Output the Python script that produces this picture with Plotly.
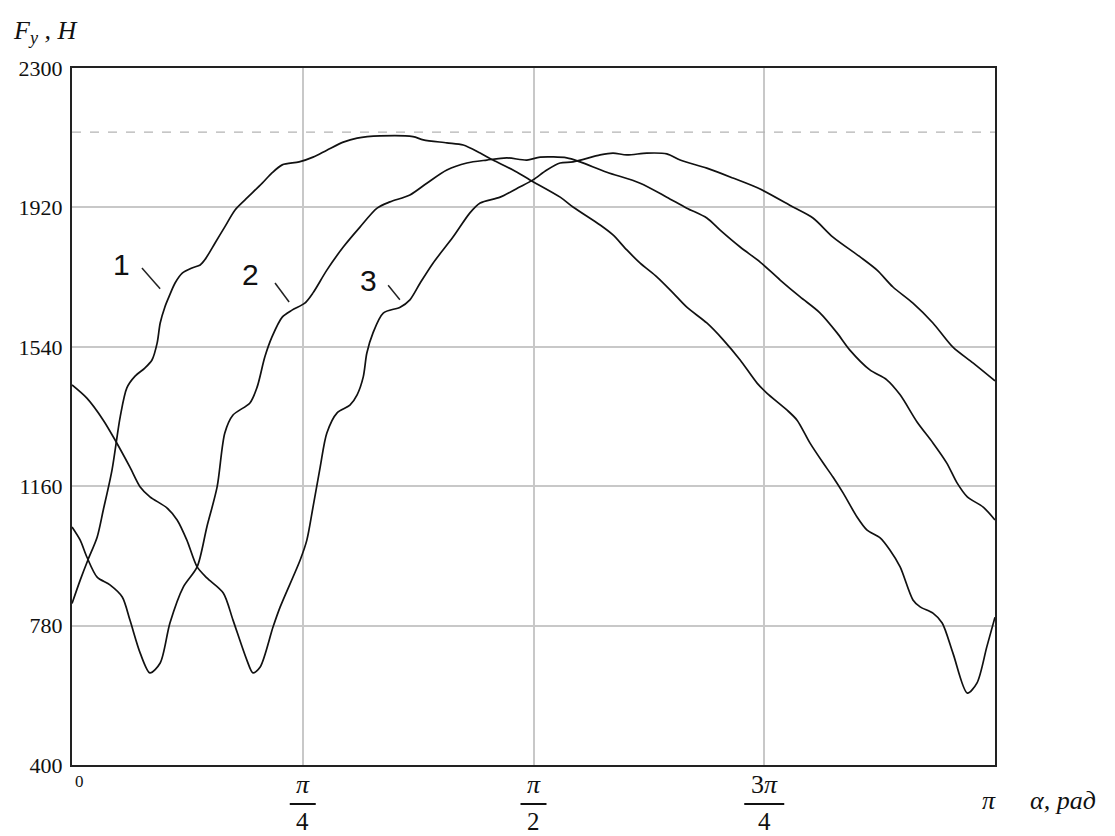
import numpy as np
import plotly.graph_objects as go

# ---------------- data ----------------
alpha1_deg = [0, 1.6, 3.1, 4.9, 6.1, 7.8, 9.4, 10.7, 12.3, 14.2, 15.6, 16.6, 17.2, 18.1, 18.9,
              20.1, 21.5, 23.4, 25.0, 25.9, 27.9, 29.8, 31.8, 33.7, 37.1, 39.0, 41.0, 44.3, 47.0,
              49.7, 52.9, 55.6, 60.1, 66.5, 68.5, 73.1, 76.3, 79.6, 82.1, 86.0, 89.3, 95.2, 97.7,
              103.0, 105.5, 108.2, 110.8, 114.1, 117.2, 119.9, 123.8, 127.0, 130.3, 133.6, 135.5,
              139.4, 141.4, 143.9, 146.5, 148.4, 150.4, 153.1, 155.0, 157.6, 159.5, 161.5, 164.0,
              165.4, 167.9, 169.7, 171.8, 174.6, 176.5, 178.4, 180]
F1 = [840, 904, 959, 1021, 1095, 1204, 1349, 1428, 1460, 1482, 1504, 1550, 1605, 1648, 1676,
      1714, 1741, 1755, 1763, 1777, 1823, 1867, 1913, 1940, 1986, 2014, 2036, 2044, 2057,
      2076, 2098, 2109, 2115, 2113, 2104, 2096, 2090, 2068, 2049, 2022, 1995, 1948, 1921,
      1872, 1845, 1804, 1768, 1730, 1687, 1648, 1605, 1559, 1504, 1441, 1414,
      1368, 1340, 1278, 1223, 1185, 1141, 1076, 1041, 1019, 986, 940, 850,
      831, 814, 787, 705, 596, 624, 722, 803]

alpha2_deg = [0, 1.6, 2.9, 4.9, 7.4, 9.8, 11.3, 13.3, 15.2, 17.2, 19.1, 21.7, 24.4, 26.3, 28.3,
              29.8, 31.4, 34.7, 36.1, 37.6, 39.0, 41.0, 42.9, 45.4, 47.0, 49.7, 52.9, 56.2, 59.5,
              62.0, 65.9, 69.2, 73.1, 77.0, 80.9, 84.8, 88.7, 91.3, 96.5, 99.1, 104.3, 110.8,
              116.0, 119.9, 123.8, 126.4, 130.3, 134.2, 138.1, 142.0, 145.9, 149.2, 151.7, 155.6,
              158.9, 161.5, 164.8, 167.9, 170.6, 172.6, 174.6, 177.7, 180]
F2 = [1049, 1013, 967, 912, 891, 858, 795, 705, 651, 678, 787, 885, 940, 1049, 1158,
      1305, 1354, 1387, 1430, 1512, 1567, 1621, 1640, 1659, 1687, 1749, 1812, 1867, 1918,
      1935, 1954, 1986, 2022, 2041, 2049, 2055, 2049, 2057, 2055, 2044, 2016, 1986,
      1948, 1918, 1891, 1858, 1812, 1771, 1722, 1676, 1632, 1578, 1531, 1477,
      1450, 1409, 1335, 1278, 1223, 1169, 1131, 1103, 1068]

alpha3_deg = [0, 2.9, 6.1, 8.4, 11.3, 13.3, 15.2, 18.5, 20.5, 22.4, 24.4, 26.3, 29.5, 31.4, 34.1,
              35.3, 36.7, 39.2, 40.6, 44.5, 45.8, 47.0, 48.4, 49.7, 51.7, 54.2, 55.6, 56.8, 57.5,
              58.7, 60.7, 64.0, 65.9, 67.9, 70.4, 74.3, 77.6, 79.6, 83.5, 87.4, 89.9, 92.6, 95.2,
              97.7, 103.0, 105.5, 108.2, 112.1, 116.0, 118.6, 123.8, 128.9, 134.2, 140.6, 144.5,
              148.4, 153.7, 157.0, 160.1, 164.0, 167.9, 171.8, 175.7, 180]
F3 = [1436, 1400, 1340, 1286, 1212, 1158, 1131, 1101, 1068, 1013, 940, 910, 869, 795, 686,
      651, 667, 776, 831, 959, 1013, 1103, 1212, 1305, 1360, 1381, 1409, 1458, 1523,
      1578, 1632, 1648, 1668, 1714, 1768, 1839, 1905, 1932, 1948, 1976, 1995, 2022, 2041,
      2044, 2063, 2068, 2063, 2068, 2066, 2049, 2027, 2000, 1970, 1921, 1891,
      1839, 1785, 1749, 1703, 1659, 1605, 1539, 1496, 1447]

dashed_level = 2125

y_ticks = [400, 780, 1160, 1540, 1920, 2300]
y_ticktext = ["400", "780", "1160", "1540", "1920", "2300"]

x_ticks = [np.pi / 4, np.pi / 2, 3 * np.pi / 4]
x_num = ["<i>π</i>", "<i>π</i>", "3<i>π</i>"]
x_den = ["4", "2", "4"]
x_barhalf = [13, 13, 20]

curve_labels = ["1", "2", "3"]
label_x = [0.170, 0.606, 1.008]
label_y = [1763, 1736, 1722]
leader_x0 = [0.238, 0.691, 1.076]
leader_y0 = [1755, 1714, 1708]
leader_x1 = [0.300, 0.739, 1.116]
leader_y1 = [1698, 1662, 1668]

# ---------------- figure ----------------
fig = go.Figure()

fig.add_trace(go.Scatter(x=[0, np.pi], y=[dashed_level, dashed_level], mode="lines",
                         line=dict(color="#b4b4b4", width=1.3, dash="dash"),
                         hoverinfo="skip"))

for a, f in [(alpha1_deg, F1), (alpha2_deg, F2), (alpha3_deg, F3)]:
    fig.add_trace(go.Scatter(x=np.radians(a), y=f, mode="lines",
                             line=dict(color="#111111", width=1.7, shape="spline", smoothing=0.8)))

serif = "Liberation Serif"

fig.update_layout(
    width=1115, height=836,
    margin=dict(l=72, r=120, t=68, b=71),
    plot_bgcolor="white", paper_bgcolor="white",
    showlegend=False,
    xaxis=dict(range=[0, np.pi], tickvals=x_ticks, showticklabels=False,
               showgrid=True, gridcolor="#c8c8c8", gridwidth=1.5,
               showline=True, linecolor="#222222", linewidth=2, mirror=True,
               zeroline=False, ticks=""),
    yaxis=dict(range=[400, 2300], tickvals=y_ticks, ticktext=y_ticktext,
               tickfont=dict(family=serif, size=22, color="#111111"),
               showgrid=True, gridcolor="#c8c8c8", gridwidth=1.5,
               showline=True, linecolor="#222222", linewidth=2, mirror=True,
               zeroline=False, ticks="", ticklabelstandoff=3),
)

ann = []
shapes = []
for xv, n, d, hw in zip(x_ticks, x_num, x_den, x_barhalf):
    ann.append(dict(x=xv, y=0, xref="x", yref="paper", text=n, showarrow=False,
                    yanchor="middle", yshift=-19, font=dict(family=serif, size=26, color="#111")))
    ann.append(dict(x=xv, y=0, xref="x", yref="paper", text=d, showarrow=False,
                    yanchor="middle", yshift=-56, font=dict(family=serif, size=25, color="#111")))
    shapes.append(dict(type="line", xref="x", yref="paper", xsizemode="pixel", xanchor=xv,
                       x0=-hw, x1=hw, ysizemode="pixel", yanchor=0, y0=-39, y1=-39,
                       line=dict(color="#111", width=2)))

ann.append(dict(x=0, y=0, xref="x", yref="paper", text="0", showarrow=False,
                xanchor="left", yanchor="top", xshift=1, yshift=-5,
                font=dict(family=serif, size=17, color="#111")))
ann.append(dict(x=np.pi, y=0, xref="x", yref="paper", text="<i>π</i>", showarrow=False,
                xanchor="center", yanchor="middle", xshift=-6, yshift=-35,
                font=dict(family=serif, size=26, color="#111")))
ann.append(dict(x=1.036, y=0, xref="paper", yref="paper", text="<i>α, рад</i>", showarrow=False,
                xanchor="left", yanchor="middle", yshift=-35,
                font=dict(family=serif, size=26, color="#111")))
ann.append(dict(x=-0.066, y=1.052, xref="paper", yref="paper",
                text="<i>F</i><sub><i>y</i></sub><i> , Н</i>", showarrow=False,
                xanchor="left", yanchor="middle",
                font=dict(family=serif, size=26, color="#111")))

for t, lx, ly in zip(curve_labels, label_x, label_y):
    ann.append(dict(x=lx, y=ly, xref="x", yref="y", text=t, showarrow=False,
                    xanchor="center", yanchor="middle",
                    font=dict(family="Liberation Sans", size=30, color="#111")))
for x0, y0, x1, y1 in zip(leader_x0, leader_y0, leader_x1, leader_y1):
    shapes.append(dict(type="line", xref="x", yref="y", x0=x0, y0=y0, x1=x1, y1=y1,
                       line=dict(color="#222", width=1.5)))

fig.update_layout(annotations=ann, shapes=shapes)
fig.write_html("out.html")
